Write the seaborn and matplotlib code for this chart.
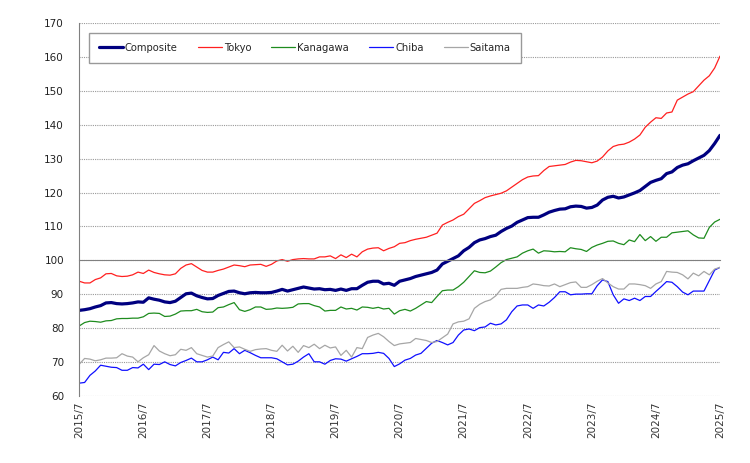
import pandas as pd
import matplotlib
matplotlib.use('Agg')
import matplotlib.pyplot as plt
import seaborn as sns

# x tick labels, one per year (monthly data 2015/7 - 2025/7)
year_labels = ['2015/7', '2016/7', '2017/7', '2018/7', '2019/7', '2020/7',
               '2021/7', '2022/7', '2023/7', '2024/7', '2025/7']

composite = [
    85.2, 85.4, 85.7, 86.2, 86.6, 87.4, 87.5, 87.2, 87.1, 87.2, 87.4, 87.7,
    87.6, 88.9, 88.5, 88.2, 87.7, 87.5, 87.9, 89.0, 90.1, 90.3, 89.5, 89.0,
    88.6, 88.7, 89.6, 90.2, 90.8, 90.9, 90.4, 90.1, 90.4, 90.5, 90.4, 90.4,
    90.5, 90.9, 91.4, 90.9, 91.3, 91.7, 92.1, 91.8, 91.5, 91.6, 91.3, 91.4,
    91.1, 91.5, 91.1, 91.6, 91.6, 92.6, 93.5, 93.8, 93.8, 93.0, 93.2, 92.6,
    93.8, 94.2, 94.6, 95.2, 95.6, 96.0, 96.4, 97.1, 98.9, 99.7, 100.5, 101.3,
    102.8, 103.8, 105.2, 106.0, 106.4, 107.0, 107.4, 108.5, 109.4, 110.1, 111.2, 111.9,
    112.6, 112.7, 112.7, 113.4, 114.2, 114.7, 115.1, 115.2, 115.8, 116.0, 115.9, 115.4,
    115.6, 116.3, 117.8, 118.6, 118.9, 118.4, 118.7, 119.3, 119.9, 120.6, 121.8, 123.0,
    123.6, 124.1, 125.6, 126.1, 127.4, 128.1, 128.5, 129.4, 130.2, 131.0, 132.4, 134.5,
    136.9,
]
tokyo = [
    93.8, 93.3, 93.3, 94.3, 94.8, 96.0, 96.1, 95.4, 95.2, 95.3, 95.7, 96.5,
    96.1, 97.1, 96.4, 96.0, 95.7, 95.6, 96.0, 97.6, 98.6, 99.0, 98.0, 97.0,
    96.5, 96.5, 97.0, 97.4, 98.0, 98.6, 98.4, 98.1, 98.6, 98.7, 98.8, 98.2,
    98.8, 99.8, 100.2, 99.7, 100.2, 100.4, 100.5, 100.4, 100.4, 101.0, 101.0, 101.3,
    100.5, 101.6, 100.8, 101.8, 101.0, 102.5, 103.3, 103.6, 103.7, 102.8, 103.5, 104.0,
    105.0, 105.2, 105.8, 106.2, 106.5, 106.8, 107.4, 108.0, 110.4, 111.2, 111.9, 112.9,
    113.6, 115.2, 116.8, 117.6, 118.5, 119.0, 119.4, 119.8, 120.5, 121.6, 122.7, 123.8,
    124.6, 124.9, 125.0, 126.5, 127.7, 127.9, 128.1, 128.3, 129.0, 129.5, 129.4, 129.1,
    128.8, 129.3, 130.5, 132.3, 133.6, 134.1, 134.3, 134.9, 135.8, 137.0, 139.3, 140.8,
    142.1, 141.9, 143.5, 143.8, 147.3, 148.2, 149.1, 149.8, 151.5, 153.2, 154.5, 156.8,
    160.3,
]
kanagawa = [
    80.6, 81.6, 82.0, 81.9, 81.7, 82.1, 82.2, 82.7, 82.8, 82.8, 82.9, 82.9,
    83.3, 84.3, 84.4, 84.3, 83.4, 83.5, 84.1, 85.0, 85.1, 85.1, 85.5, 84.8,
    84.6, 84.7, 86.0, 86.2, 86.9, 87.5, 85.4, 84.9, 85.4, 86.2, 86.2, 85.5,
    85.6, 85.9, 85.8, 85.9, 86.1, 87.1, 87.2, 87.2, 86.6, 86.2, 85.0, 85.2,
    85.2, 86.2, 85.6, 85.8, 85.3, 86.2, 86.1, 85.8, 86.1, 85.6, 85.8, 84.1,
    85.1, 85.5, 85.0, 85.8, 86.8, 87.8, 87.5, 89.3, 91.0, 91.2, 91.2, 92.2,
    93.5, 95.2, 96.9, 96.4, 96.3, 96.8, 98.0, 99.3, 100.2, 100.6, 101.0, 102.1,
    102.8, 103.3, 102.1, 102.8, 102.7, 102.5, 102.6, 102.5, 103.7, 103.4, 103.2, 102.6,
    103.8, 104.5, 105.0, 105.6, 105.7, 105.0, 104.6, 106.0, 105.5, 107.6, 105.8, 107.0,
    105.6, 106.8, 106.8, 108.1, 108.3, 108.5, 108.7, 107.5, 106.6, 106.5, 109.7, 111.3,
    112.1,
]
chiba = [
    63.7, 63.9, 66.0, 67.3, 69.0, 68.7, 68.4, 68.3, 67.5, 67.5, 68.3, 68.2,
    69.3, 67.7, 69.3, 69.2, 70.0, 69.2, 68.8, 69.8, 70.4, 71.1, 70.0, 70.0,
    70.6, 71.4, 70.6, 72.8, 72.6, 73.9, 72.4, 73.4, 72.7, 71.9, 71.2, 71.2,
    71.2, 70.9, 70.0, 69.1, 69.3, 70.2, 71.4, 72.4, 70.0, 70.0, 69.3, 70.4,
    70.9, 70.8, 70.2, 70.9, 71.6, 72.4, 72.4, 72.5, 72.8, 72.5, 71.0, 68.6,
    69.4, 70.5, 71.0, 72.0, 72.5, 74.0, 75.5, 76.3, 75.7, 75.0, 75.7, 77.9,
    79.4, 79.7, 79.2, 80.1, 80.3, 81.4, 80.9, 81.2, 82.4, 84.8, 86.5, 86.8,
    86.8, 85.8, 86.8, 86.5, 87.6, 89.0, 90.7, 90.7, 89.8, 90.0, 90.0, 90.1,
    90.1, 92.5, 94.2, 93.7, 89.8, 87.3, 88.6, 88.1, 88.8, 88.1, 89.3, 89.3,
    90.8, 92.2, 93.7, 93.5, 92.2, 90.6, 89.8, 90.9, 90.9, 90.9, 94.0, 97.1,
    97.9,
]
saitama = [
    69.3, 71.0, 70.8, 70.3, 70.6, 71.1, 71.1, 71.2, 72.4, 71.7, 71.4, 70.0,
    71.2, 72.1, 74.8, 73.2, 72.4, 71.8, 72.1, 73.7, 73.4, 74.2, 72.4, 71.9,
    71.4, 71.7, 74.2, 75.1, 75.9, 74.2, 74.4, 73.7, 73.1, 73.6, 73.8, 73.9,
    73.4, 73.1, 74.9, 73.2, 74.6, 72.8, 74.8, 74.2, 75.2, 73.9, 74.9, 74.1,
    74.4, 71.9, 73.4, 71.4, 74.2, 73.9, 77.2, 77.9, 78.4, 77.4, 76.0, 74.8,
    75.3, 75.5, 75.7, 76.9, 76.6, 76.3, 75.7, 76.0, 77.1, 78.2, 81.2, 81.8,
    82.0, 82.7, 85.8, 87.0, 87.8, 88.3, 89.5, 91.4, 91.7, 91.7, 91.7, 92.0,
    92.2, 93.0, 92.8, 92.5, 92.4, 93.0, 92.2, 92.8, 93.4, 93.6, 92.0, 92.0,
    92.8, 93.8, 94.6, 93.3, 92.2, 91.5, 91.5, 93.0, 93.0, 92.8, 92.5, 91.7,
    93.0, 93.7, 96.7, 96.5, 96.4, 95.7, 94.5, 96.2, 95.4, 96.7, 95.7, 97.4,
    97.9,
]

series = {'Composite': composite, 'Tokyo': tokyo, 'Kanagawa': kanagawa,
          'Chiba': chiba, 'Saitama': saitama}
for k, v in series.items():
    assert len(v) == 121, (k, len(v))

df = pd.DataFrame(series)
df['month'] = range(len(df))
long_df = df.melt(id_vars='month', var_name='area', value_name='index')

colors = {'Composite': '#000080', 'Tokyo': '#FF2020', 'Kanagawa': '#1E8C1E',
          'Chiba': '#1010FF', 'Saitama': '#A6A6A6'}
widths = {'Composite': 2.3, 'Tokyo': 0.9, 'Kanagawa': 0.9, 'Chiba': 0.9, 'Saitama': 0.9}

sns.set_style('white')
plt.rcParams['font.family'] = ['DejaVu Sans']

fig = plt.figure(figsize=(7.5, 4.63), dpi=100)
ax = fig.add_axes([0.1057, 0.1454, 0.8543, 0.8043])

for name in series:
    sns.lineplot(data=long_df[long_df['area'] == name], x='month', y='index',
                 color=colors[name], linewidth=widths[name], label=name, ax=ax)

ax.set_xlim(0, 120)
ax.set_ylim(60, 170)
ax.set_yticks(range(60, 171, 10))
ax.set_xticks(range(0, 121, 12))
ax.set_xlabel('')
ax.set_ylabel('')

# horizontal axis crosses at 100
ax.spines['bottom'].set_position(('data', 100))
ax.spines['bottom'].set_color('#808080')
ax.spines['left'].set_color('#808080')
ax.spines['top'].set_visible(False)
ax.spines['right'].set_visible(False)
ax.tick_params(axis='x', labelbottom=False, length=3, direction='out', color='#808080')
ax.tick_params(axis='y', length=0, labelsize=7.5, pad=11, labelcolor='#222222')
ax.yaxis.grid(True, color='#9a9a9a', linestyle=(0, (1, 1)), linewidth=0.8)
ax.set_axisbelow(True)

# year labels along the bottom edge
sec = ax.secondary_xaxis('bottom')
sec.set_xticks(range(0, 121, 12))
sec.set_xticklabels(year_labels, rotation=90, fontsize=7.5, color='#333333')
sec.tick_params(length=0, pad=4)
sec.spines['bottom'].set_visible(False)

ax.legend(loc='upper left', bbox_to_anchor=(0.015, 0.974), ncol=5, frameon=True,
          fancybox=False, edgecolor='#999999', framealpha=1, fontsize=7.2,
          handlelength=2.4, handletextpad=0.2, columnspacing=2.0, borderpad=1.0,
          borderaxespad=0)

fig.savefig('out.png', dpi=100)
